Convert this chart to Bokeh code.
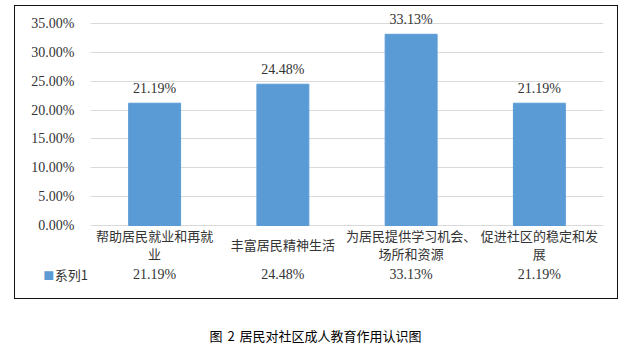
from bokeh.plotting import figure
from bokeh.layouts import column
from bokeh.models import (ColumnDataSource, FactorRange, Range1d, FixedTicker,
                          NumeralTickFormatter, Div)
from bokeh.core.properties import value
from bokeh.embed import file_html
from bokeh.resources import INLINE

# ---- data ----
categories = ["帮助居民就业和再就业", "丰富居民精神生活", "为居民提供学习机会、场所和资源", "促进社区的稳定和发展"]
tick_labels = ["帮助居民就业和再就\n业", "丰富居民精神生活", "为居民提供学习机会、\n场所和资源", "促进社区的稳定和发\n展"]
values = [0.2119, 0.2448, 0.3313, 0.2119]
series_name = "系列1"
y_ticks = [0.0, 0.05, 0.10, 0.15, 0.20, 0.25, 0.30, 0.35]
caption = "图 2 居民对社区成人教育作用认识图"

value_labels = [f"{v * 100:.2f}%" for v in values]
src = ColumnDataSource(dict(cat=categories, val=values, tick=tick_labels,
                            lbl=value_labels, zero=[0.0] * len(values)))
key_src = ColumnDataSource(dict(cat=categories[:1], zero=[0.0], sq=["■"], name=[series_name]))

SERIF = "'Liberation Serif', 'Times New Roman', serif"
CJK = "'Noto Sans CJK SC', sans-serif"
TXT = "#333333"
BAR = "#5b9bd5"

PX = 0.35 / 202.0  # data units per pixel on the value axis
p = figure(width=604, height=294,
           x_range=FactorRange(*categories, range_padding=0),
           y_range=Range1d(-75 * PX, 0.35 + 17 * PX),
           output_backend="svg", toolbar_location=None,
           x_axis_location=None,
           min_border_left=75, min_border_right=16,
           min_border_top=0, min_border_bottom=0,
           outline_line_color=None,
           background_fill_color="white", border_fill_color="white",
           margin=(5, 0, 0, 14),
           styles={"border": "1px solid #111111"})

# y axis
p.yaxis.ticker = FixedTicker(ticks=y_ticks)
p.yaxis.formatter = NumeralTickFormatter(format="0.00%")
p.yaxis.axis_line_color = None
p.yaxis.major_tick_line_color = None
p.yaxis.minor_tick_line_color = None
p.yaxis.major_label_standoff = 10
p.yaxis.major_label_text_font = SERIF
p.yaxis.major_label_text_font_size = "14px"
p.yaxis.major_label_text_color = TXT

p.ygrid.ticker = FixedTicker(ticks=y_ticks)
p.ygrid.grid_line_color = "#d9d9d9"
p.ygrid.grid_line_width = 1
for g in p.xgrid:
    g.grid_line_color = None

p.vbar(x="cat", top="val", width=0.405, source=src,
       fill_color=BAR, line_color=BAR)

# data labels above bars
p.text(x="cat", y="val", text="lbl", source=src, y_offset=-15,
       text_align="center", text_baseline="middle", level="overlay",
       text_font=value(SERIF), text_font_size="14px", text_color=TXT)

# category labels (data table header)
p.text(x="cat", y="zero", text="tick", source=src, y_offset=19,
       text_align="center", text_baseline="middle", level="overlay",
       text_font=value(CJK), text_font_size="13px", text_color=TXT,
       text_line_height=0.95)

# data table values row
p.text(x="cat", y="zero", text="lbl", source=src, y_offset=49,
       text_align="center", text_baseline="middle", level="overlay",
       text_font=value(SERIF), text_font_size="14px", text_color=TXT)

# legend key of the data table row
p.text(x="cat", y="zero", text="sq", source=key_src, x_offset=-106, y_offset=49,
       text_align="center", text_baseline="middle", level="overlay",
       text_font=value(CJK), text_font_size="11px", text_color=BAR)
p.text(x="cat", y="zero", text="name", source=key_src, x_offset=-100, y_offset=49,
       text_align="left", text_baseline="middle", level="overlay",
       text_font=value(CJK), text_font_size="13px", text_color=TXT)

cap = Div(text=caption, width=631, height=20, margin=(27, 0, 0, 0),
          styles={"text-align": "center", "font-family": "'Noto Sans CJK SC', sans-serif",
                  "font-size": "13px", "color": "#000000", "line-height": "20px",
                  "white-space": "pre", "word-spacing": "2px"})

layout = column(p, cap)
open("out.html", "w").write(file_html(layout, INLINE))
